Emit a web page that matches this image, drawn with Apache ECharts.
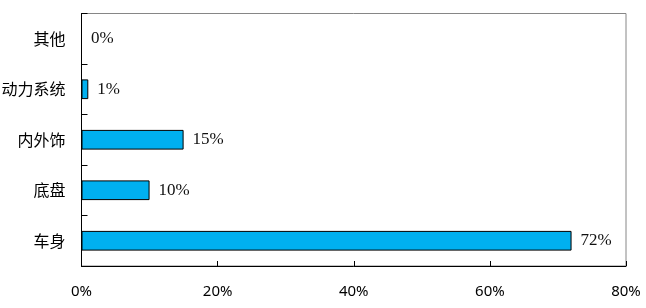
<!DOCTYPE html>
<html><head><meta charset="utf-8">
<script src="https://cdn.jsdelivr.net/npm/echarts@6/dist/echarts.min.js"></script>
<style>html,body{margin:0;padding:0;background:#fff}#c{width:646px;height:308px}</style>
</head><body><div id="c"></div>
<script>
const categories = ['车身', '底盘', '内外饰', '动力系统', '其他'];
const values = [72, 10, 15, 1, 0];
const xTicks = [0, 20, 40, 60, 80];

const chart = echarts.init(document.getElementById('c'), null, {renderer: 'canvas'});
chart.setOption({
  animation: false,
  backgroundColor: '#fff',
  grid: {left: 81.5, right: 20, top: 13.5, bottom: 42, containLabel: false, outerBoundsMode: 'none', show: true, borderColor: '#868686', borderWidth: 1, backgroundColor: 'transparent'},
  xAxis: {
    type: 'value', min: xTicks[0], max: xTicks[xTicks.length - 1], interval: 20,
    axisLine: {show: true, lineStyle: {color: '#000', width: 1}},
    axisTick: {show: true, inside: true, length: 5, lineStyle: {color: '#000'}},
    splitLine: {show: false},
    axisLabel: {formatter: v => v + '%', color: '#000', fontSize: 15, fontFamily: 'Noto Sans', margin: 18}
  },
  yAxis: {
    type: 'category', data: categories,
    axisLine: {show: true, lineStyle: {color: '#000', width: 1}},
    axisTick: {show: true, inside: true, length: 6, lineStyle: {color: '#000'}},
    axisLabel: {color: '#000', fontSize: 16, fontFamily: 'Noto Sans CJK SC', margin: 16}
  },
  series: [{
    type: 'bar', data: values, barWidth: '39%',
    itemStyle: {color: '#00B0F0', borderColor: '#000', borderWidth: 1},
    label: {show: true, position: 'right', distance: 9, formatter: p => p.value + '%', color: '#111', fontSize: 17, fontFamily: 'Liberation Serif'}
  }]
});
</script></body></html>
